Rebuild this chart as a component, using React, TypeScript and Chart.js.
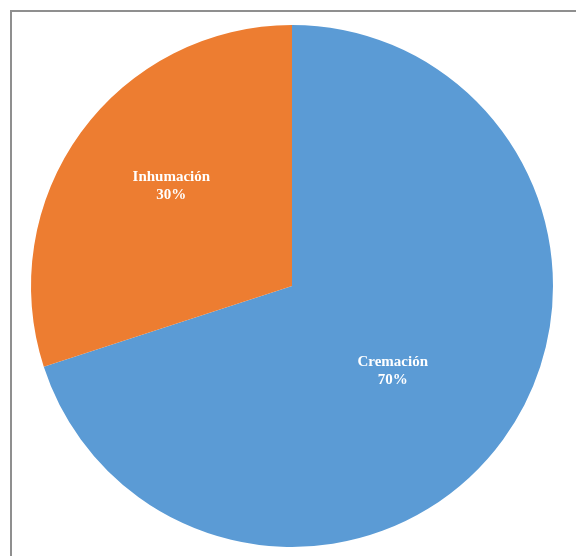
import React, { useEffect, useRef } from "react";
import { Chart, registerables } from "chart.js";

Chart.register(...registerables);

const categories = ["Cremación", "Inhumación"];
const values = [70, 30];
const percentLabels = ["70%", "30%"];
const colors = ["#5B9BD5", "#ED7D31"];

const labelPlugin = {
  id: "sliceLabels",
  afterDatasetsDraw(chart: any, _args: any, opts: any) {
    const ctx = chart.ctx;
    const meta = chart.getDatasetMeta(0);
    meta.data.forEach((arc: any, i: number) => {
      const p = arc.getProps(["x", "y", "startAngle", "endAngle", "outerRadius"], true);
      const mid = (p.startAngle + p.endAngle) / 2 + (opts.angleOffsets?.[i] ?? 0);
      const r = p.outerRadius * (opts.radii?.[i] ?? 0.55);
      const cx = p.x + Math.cos(mid) * r;
      const cy = p.y + Math.sin(mid) * r;
      ctx.save();
      ctx.fillStyle = "#ffffff";
      ctx.font = "bold 15px 'Liberation Serif', 'DejaVu Serif', serif";
      ctx.textAlign = "center";
      ctx.textBaseline = "middle";
      ctx.fillText(categories[i], cx, cy - 9);
      ctx.fillText(percentLabels[i], cx, cy + 9);
      ctx.restore();
    });
  },
};

export default function App() {
  const canvasRef = useRef<HTMLCanvasElement | null>(null);

  useEffect(() => {
    document.body.style.margin = "0";
    const canvas = canvasRef.current!;
    const chart = new Chart(canvas, {
      type: "pie",
      data: {
        labels: categories,
        datasets: [
          {
            data: values,
            backgroundColor: colors,
            borderWidth: 0,
          },
        ],
      },
      options: {
        responsive: false,
        animation: false,
        layout: { padding: { left: 31, right: 23, top: 25, bottom: 9 } },
        plugins: {
          legend: { display: false },
          tooltip: { enabled: false },
          sliceLabels: { angleOffsets: [0.073, 0.063], radii: [0.505, 0.6] },
        } as any,
      },
      plugins: [labelPlugin],
    });
    return () => chart.destroy();
  }, []);

  return (
    <div style={{ position: "relative", width: 576, height: 556, background: "#fff", overflow: "hidden" }}>
      <div
        style={{
          position: "absolute",
          left: 10,
          top: 10,
          right: -10,
          bottom: -10,
          borderTop: "2px solid #8f8f8f",
          borderLeft: "2px solid #8f8f8f",
        }}
      />
      <canvas ref={canvasRef} width={576} height={556} style={{ position: "absolute", left: 0, top: 0 }} />
    </div>
  );
}
